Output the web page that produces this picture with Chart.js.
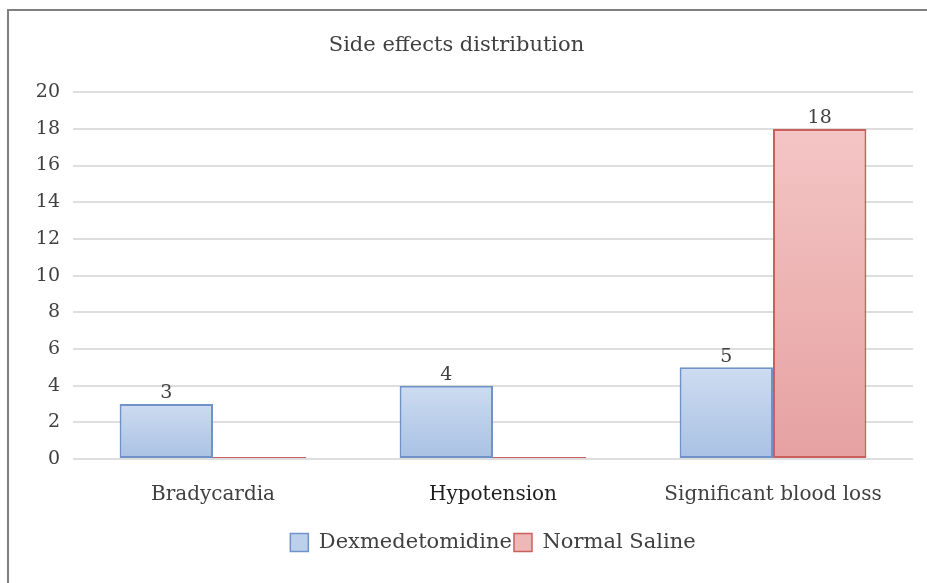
<!DOCTYPE html>
<html>
<head>
<meta charset="utf-8">
<script src="https://cdn.jsdelivr.net/npm/chart.js@4/dist/chart.umd.min.js"></script>
<style>
  html, body { margin: 0; padding: 0; background: #fff; }
  #wrap { position: relative; width: 927px; height: 583px; }
  #frame { position: absolute; left: 7px; top: 9px; right: 0; bottom: 0;
           border-top: 2px solid #808080; border-left: 2px solid #808080; pointer-events: none; }
  canvas { position: absolute; left: 0; top: 0; }
</style>
</head>
<body>
<div id="wrap">
  <canvas id="sideEffectsChart" width="927" height="583"></canvas>
  <div id="frame"></div>
</div>
<script>
const categories = ["Bradycardia", "Hypotension", "Significant blood loss"];
const dexValues = [3, 4, 5];
const salineValues = [0, 0, 18];
const yTicks = [0, 2, 4, 6, 8, 10, 12, 14, 16, 18, 20];

const FONT = "'DejaVu Serif', 'Liberation Serif', serif";
const TEXT = "#404040";

// vertical gradient per bar, light at top, darker at base
const barGradient = (top, bottom, solid) => (c) => {
  const chart = c.chart;
  if (!chart.chartArea || c.raw === undefined || c.type !== "data") return solid;
  const y = chart.scales.y;
  const y0 = y.getPixelForValue(c.raw);
  const y1 = y.getPixelForValue(0);
  if (y1 - y0 < 1) return solid;
  const g = chart.ctx.createLinearGradient(0, y0, 0, y1);
  g.addColorStop(0, top);
  g.addColorStop(1, bottom);
  return g;
};

const valueLabels = {
  id: "valueLabels",
  afterDatasetsDraw(chart) {
    const ctx = chart.ctx;
    ctx.save();
    ctx.font = "19px " + FONT;
    ctx.fillStyle = TEXT;
    ctx.textAlign = "center";
    ctx.textBaseline = "bottom";
    chart.data.datasets.forEach((ds, i) => {
      chart.getDatasetMeta(i).data.forEach((bar, j) => {
        const v = ds.data[j];
        if (!v) return;
        ctx.fillText(String(v), bar.x, bar.y - 1);
      });
    });
    ctx.restore();
  }
};

new Chart(document.getElementById("sideEffectsChart"), {
  type: "bar",
  data: {
    labels: categories,
    datasets: [
      {
        label: "Dexmedetomidine",
        data: dexValues,
        backgroundColor: barGradient("#cddcf0", "#a9c1e4", "#bcd0ec"),
        borderColor: "#6f93c9",
        borderWidth: 2,
        borderSkipped: false,
      },
      {
        label: "Normal Saline",
        data: salineValues,
        backgroundColor: barGradient("#f4c5c5", "#e6a1a1", "#efb8b8"),
        borderColor: "#c9605d",
        borderWidth: 2,
        borderSkipped: false,
        minBarLength: 2,
      },
    ],
  },
  options: {
    responsive: false,
    animation: false,
    layout: { padding: { left: 0, right: 14, top: 0, bottom: 20 } },
    datasets: { bar: { categoryPercentage: 0.667, barPercentage: 1 } },
    plugins: {
      title: {
        display: true,
        text: "Side effects distribution",
        color: TEXT,
        font: { family: FONT, size: 21, weight: "normal" },
        padding: { top: 33, bottom: 34 },
      },
      legend: {
        position: "bottom",
        fullSize: false,
        labels: {
          color: TEXT,
          font: { family: FONT, size: 21 },
          boxWidth: 18,
          boxHeight: 18,
          padding: 2,
          generateLabels(chart) {
            const fills = ["#bcd0ec", "#efb8b8"];
            return chart.data.datasets.map((ds, i) => ({
              text: ds.label,
              fillStyle: fills[i],
              strokeStyle: ds.borderColor,
              lineWidth: 1.5,
              fontColor: TEXT,
              hidden: false,
              datasetIndex: i,
            }));
          },
        },
      },
      tooltip: { enabled: false },
    },
    scales: {
      x: {
        grid: { display: false, drawTicks: false },
        border: { display: false },
        ticks: {
          color: (c) => (c.index === 1 ? "#1e1e1e" : TEXT),
          padding: 24,
          font: { family: FONT, size: 20 },
        },
        afterFit(scale) { scale.height = 71; },
      },
      y: {
        min: 0,
        max: 20,
        afterBuildTicks(scale) { scale.ticks = yTicks.map(v => ({ value: v })); },
        grid: { color: "#dedede", lineWidth: 2, drawTicks: false },
        border: { display: false },
        ticks: {
          color: TEXT,
          padding: 13,
          font: { family: FONT, size: 19 },
        },
        afterFit(scale) { scale.width = 73; },
      },
    },
  },
  plugins: [valueLabels],
});
</script>
</body>
</html>
